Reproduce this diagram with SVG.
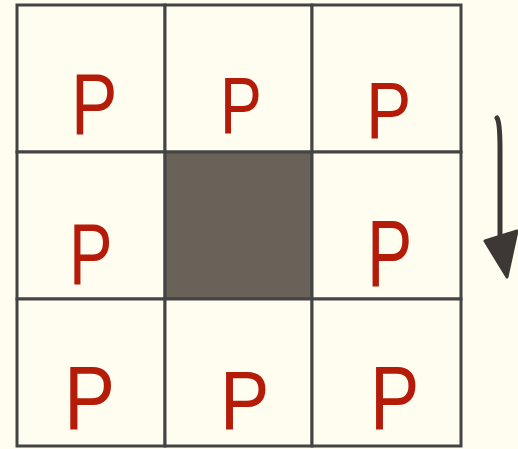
<svg xmlns="http://www.w3.org/2000/svg" width="518" height="449" viewBox="0 0 518 449">
<style>
.cell{fill:#fffcf0;stroke:#444444;stroke-width:3}
.dark{fill:#686259;stroke:#444444;stroke-width:3}
.p{fill:#b51b09;font-family:"Liberation Sans",Arial,sans-serif;font-size:87px}
.arrow{fill:none;stroke:#3d3835;stroke-width:5;stroke-linecap:round}
</style>
<rect width="518" height="449" fill="#fffcf0"/>
<g id="cell-0-0"><rect class="cell" x="17" y="5" width="148" height="147"/><text class="p" transform="translate(71,134) scale(0.8,1)">P</text></g>
<g id="cell-0-1"><rect class="cell" x="165" y="5" width="147" height="147"/><text class="p" transform="translate(220,133) scale(0.72,0.92)">P</text></g>
<g id="cell-0-2"><rect class="cell" x="312" y="5" width="149" height="147"/><text class="p" transform="translate(366,138) scale(0.78,0.92)">P</text></g>
<g id="cell-1-0"><rect class="cell" x="17" y="152" width="148" height="147"/><text class="p" transform="translate(69,284) scale(0.75,1)">P</text></g>
<g id="cell-1-1"><rect class="dark" x="165" y="152" width="147" height="147"/></g>
<g id="cell-1-2"><rect class="cell" x="312" y="152" width="149" height="147"/><text class="p" transform="translate(367,286) scale(0.78,1.08)">P</text></g>
<g id="cell-2-0"><rect class="cell" x="17" y="299" width="148" height="147"/><text class="p" transform="translate(64,429) scale(0.88,1.05)">P</text></g>
<g id="cell-2-1"><rect class="cell" x="165" y="299" width="147" height="147"/><text class="p" transform="translate(220,429) scale(0.85,0.95)">P</text></g>
<g id="cell-2-2"><rect class="cell" x="312" y="299" width="149" height="147"/><text class="p" transform="translate(370,429) scale(0.85,1.05)">P</text></g>
<g id="connectors">
<path class="arrow" d="M497,118 Q500,122 500,150 L500,236"/>
<polygon points="485,241 517,231 507,277" fill="#3d3835" stroke="#3d3835" stroke-width="3" stroke-linejoin="round"/>
</g>
</svg>
